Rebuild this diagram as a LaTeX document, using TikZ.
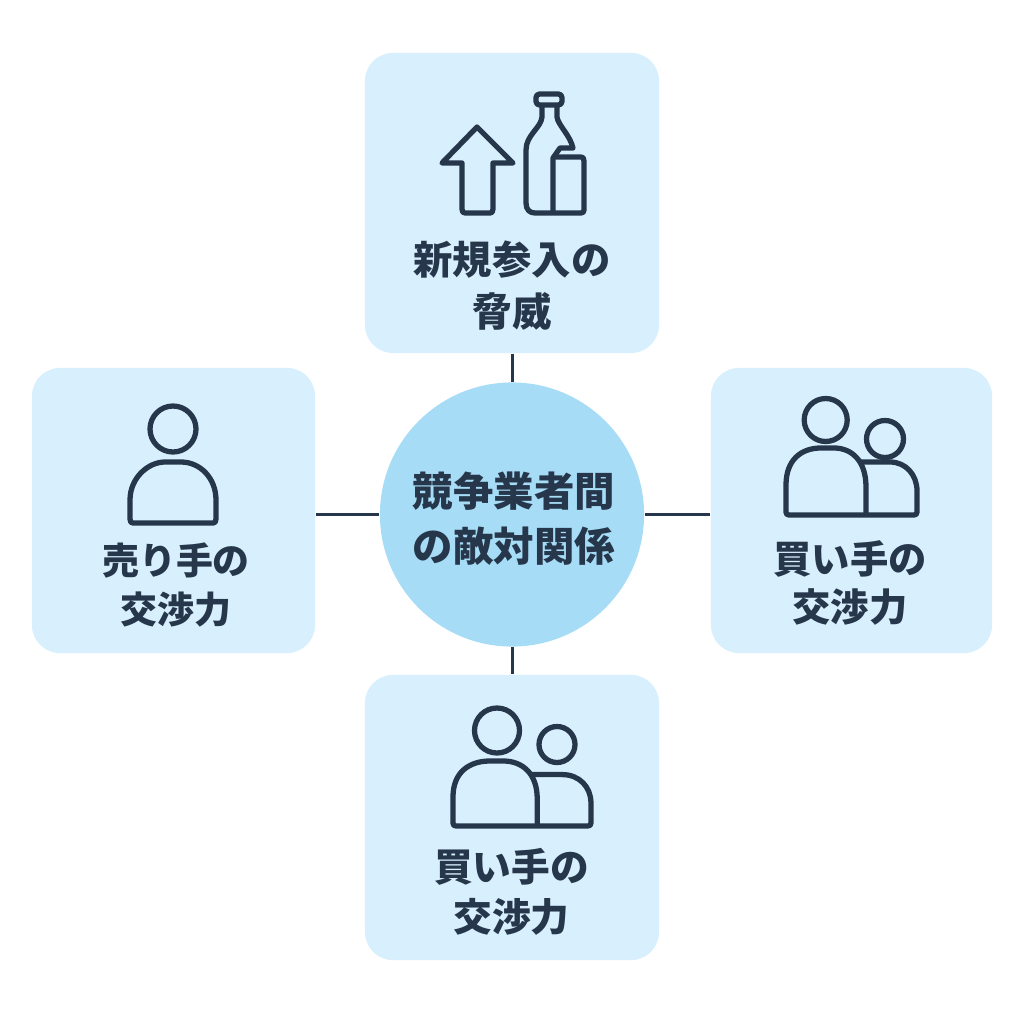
\documentclass[tikz,border=0pt]{standalone}
\usepackage{fontspec}
\usepackage{tikz}
\newfontfamily\jpfont{Noto Sans CJK JP}
\definecolor{boxfill}{HTML}{D8F0FD}
\definecolor{hubfill}{HTML}{A6DCF6}
\definecolor{ink}{HTML}{26374B}
\tikzstyle{force} = [rectangle, fill=boxfill, rounded corners=0.28cm, inner sep=0pt]
\tikzstyle{hub} = [circle, fill=hubfill, minimum size=2.64cm, inner sep=0pt]
\tikzstyle{line} = [draw=ink, line width=0.85pt]
\tikzstyle{icon} = [draw=ink, line width=1.5pt, line join=round]
\tikzstyle{tag} = [text=ink, align=center, inner sep=0pt]
\newcommand{\tagfont}[2]{\jpfont\bfseries\fontsize{#1}{#2}\selectfont}
\newcommand{\pairbody}[4]{
    \begin{scope}[shift={(#1,#2)}, xscale=#3, yscale=#4]
        \draw [icon] (0,-30) .. controls (0,-55) and (15,-67) .. (35,-67) -- (48,-67)
            .. controls (65,-67) and (80,-55) .. (80,-28) -- (80,0);
        \draw [icon] (75,-53) -- (104,-53) .. controls (120,-53) and (131,-40) .. (131,-24)
            -- (131,-3) .. controls (131,-1) and (130,0) .. (128,0) -- (3,0)
            .. controls (1,0) and (0,-1) .. (0,-3) -- (0,-30);
    \end{scope}
}
\begin{document}
\begin{tikzpicture}[x=0.01cm, y=-0.01cm]
    \useasboundingbox (0,0) rectangle (1024,1024);
    \node [force, minimum width=2.94cm, minimum height=3.00cm] at (512,203) (entry) {};
    \node [force, minimum width=2.83cm, minimum height=2.85cm] at (173.5,510.5) (seller) {};
    \node [force, minimum width=2.81cm, minimum height=2.85cm] at (851.5,510.5) (buyer) {};
    \node [force, minimum width=2.94cm, minimum height=2.85cm] at (512,817.5) (buyerb) {};
    \node [hub] at (512,514.5) (rivalry) {};
    \path [line] (rivalry.north) -- (rivalry.north |- entry.south);
    \path [line] (rivalry.south) -- (rivalry.south |- buyerb.north);
    \path [line] (rivalry.west) -- (rivalry.west -| seller.east);
    \path [line] (rivalry.east) -- (rivalry.east -| buyer.west);
    \node [tag, font=\tagfont{11.2}{14.8}] at (512,286) (entrytag) {新規参入の\\脅威};
    \node [tag, font=\tagfont{10.5}{14.2}] at (176,585) (sellertag) {売り手の\\交渉力};
    \node [tag, font=\tagfont{10.9}{13.5}] at (850,583) (buyertag) {買い手の\\交渉力};
    \node [tag, font=\tagfont{11}{14.2}] at (511.5,892) (buyerbtag) {買い手の\\交渉力};
    \node [tag, font=\tagfont{11.5}{15.6}] at (514,519) (rivalrytag) {競争業者間\\の敵対関係};
    \draw [icon] (477,127) -- (513,163) -- (493,163) -- (493,209)
        .. controls (493,212) and (492,213) .. (490,213) -- (465,213)
        .. controls (463,213) and (462,212) .. (462,209) -- (462,163) -- (442,163) -- cycle;
    \draw [icon, rounded corners=1pt] (536,94) rectangle (562,105);
    \draw [icon] (542,105) -- (542,117) .. controls (541,128) and (526,135) .. (526,150)
        -- (526,203) .. controls (526,210) and (530,213) .. (535,213) -- (581,213)
        .. controls (583,213) and (584,212) .. (584,210) -- (584,161)
        .. controls (584,158) and (583,157) .. (581,157) -- (553,157);
    \draw [icon] (557,105) -- (557,117) .. controls (558,125) and (570,135) .. (573,148)
        -- (560,148) -- (553,158) -- (553,213);
    \draw [icon] (173,429) circle (23);
    \draw [icon] (130,500) .. controls (130,478) and (148,462) .. (165,462) -- (181,462)
        .. controls (200,462) and (216,478) .. (216,500) -- (216,519)
        .. controls (216,522) and (215,523) .. (213,523) -- (133,523)
        .. controls (131,523) and (130,522) .. (130,519) -- cycle;
    \draw [icon] (825.7,420) circle (21.5);
    \draw [icon] (885,439) circle (18.5);
    \pairbody{786}{515}{1}{1}
    \draw [icon] (497,730.5) circle (22.5);
    \draw [icon] (557,744.5) circle (18);
    \pairbody{453}{826}{1.053}{0.97}
\end{tikzpicture}
\end{document}
